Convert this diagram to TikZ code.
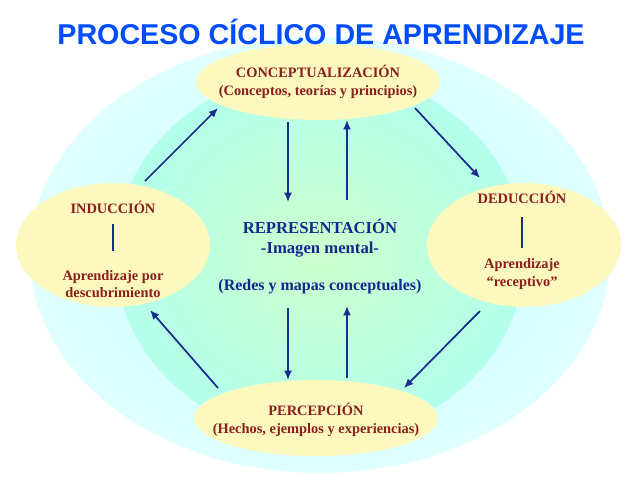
\documentclass[tikz,border=0pt]{standalone}
\usepackage{fontspec}
\setmainfont{Liberation Serif}
\newfontfamily\titlefont{Liberation Sans}
\usetikzlibrary{arrows.meta}
\definecolor{txtred}{RGB}{140,30,30}
\definecolor{txtblue}{RGB}{20,40,140}
\definecolor{arrblue}{RGB}{25,45,140}
\definecolor{ybg}{RGB}{252,248,190}
\tikzset{
  lbl/.style={text=txtred, font=\bfseries\fontsize{10.8}{13}\selectfont, align=center},
  ttl/.style={font=\titlefont\bfseries\fontsize{21.5}{24}\selectfont},
  arr/.style={draw=arrblue, line width=1.3pt, -{Latex[length=7pt,width=6pt]}},
  bar/.style={draw=arrblue, line width=1.3pt}
}
\begin{document}
\begin{tikzpicture}[x=0.75pt,y=-0.75pt]
\useasboundingbox (0,0) rectangle (639,480);
\fill[white] (0,0) rectangle (639,480);
\shade[inner color=cyan!25, outer color=cyan!12] (320,255) ellipse (290 and 218);
\shade[inner color=green!20!white, outer color=green!25!cyan!30] (320,255) ellipse (205 and 185);
\fill[ybg] (318,82) ellipse (122 and 38);
\fill[ybg] (113,245) ellipse (97 and 62);
\fill[ybg] (524,245) ellipse (97 and 62);
\fill[ybg] (316,418) ellipse (122 and 38);
\node (conc) [lbl] at (318,82) {CONCEPTUALIZACIÓN\\(Conceptos, teorías y principios)};
\node (induc) [lbl] at (113,207) {INDUCCIÓN};
\node (induc2) [lbl] at (113,284) {Aprendizaje por\\descubrimiento};
\node (deduc) [lbl] at (522,197) {DEDUCCIÓN};
\node (deduc2) [lbl] at (522,274) {Aprendizaje\\“receptivo”};
\node (perc) [lbl] at (316,420) {PERCEPCIÓN\\(Hechos, ejemplos y experiencias)};
\node (rep) [text=txtblue, font=\bfseries\fontsize{12.5}{15}\selectfont, align=center] at (320,238) {REPRESENTACIÓN\\-Imagen mental-};
\node (redes) [text=txtblue, font=\bfseries\fontsize{12}{14}\selectfont] at (320,287) {(Redes y mapas conceptuales)};
\node (title) [ttl, text=blue!70!cyan] at (321,32) {PROCESO CÍCLICO DE APRENDIZAJE};
\coordinate (b1a) at (113,224); \coordinate (b1b) at (113,251);
\coordinate (b2a) at (522,217); \coordinate (b2b) at (522,248);
\draw[bar] (b1a) -- (b1b);
\draw[bar] (b2a) -- (b2b);
\coordinate (a1) at (145,181); \coordinate (a2) at (218,108);
\coordinate (a3) at (415,108); \coordinate (a4) at (480,178);
\coordinate (a5) at (480,311); \coordinate (a6) at (404,388);
\coordinate (a7) at (218,388); \coordinate (a8) at (150,310);
\draw[arr] (a1) -- (a2);
\draw[arr] (a3) -- (a4);
\draw[arr] (a5) -- (a6);
\draw[arr] (a7) -- (a8);
\coordinate (v1) at (288,122); \coordinate (v2) at (288,202);
\coordinate (v3) at (347,200); \coordinate (v4) at (347,120);
\coordinate (v5) at (288,308); \coordinate (v6) at (288,380);
\coordinate (v7) at (347,378); \coordinate (v8) at (347,306);
\draw[arr] (v1) -- (v2);
\draw[arr] (v3) -- (v4);
\draw[arr] (v5) -- (v6);
\draw[arr] (v7) -- (v8);
\end{tikzpicture}
\end{document}
